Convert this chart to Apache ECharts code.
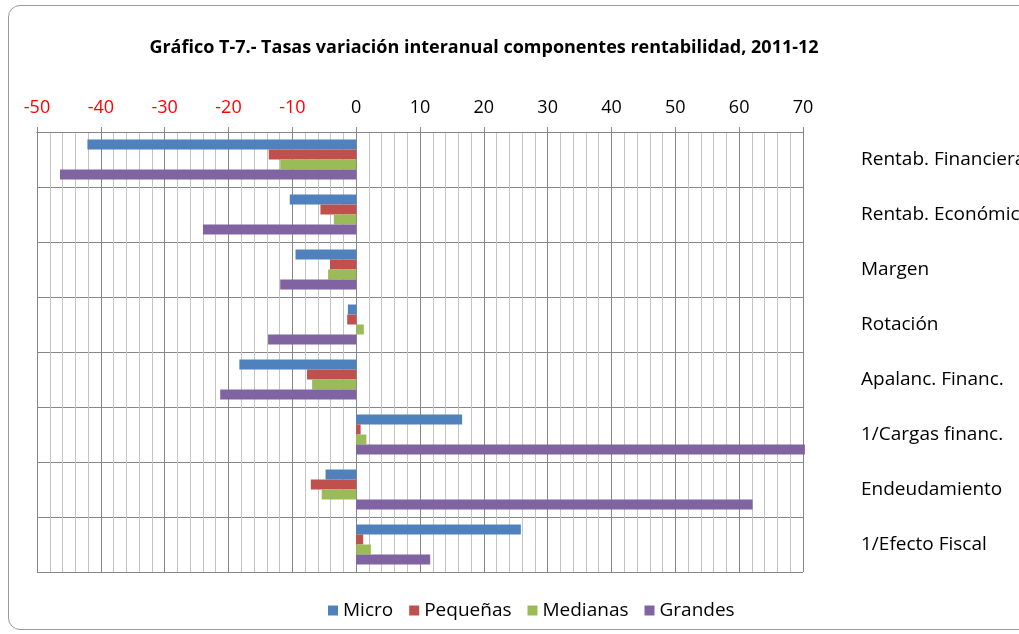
<!DOCTYPE html>
<html>
<head>
<meta charset="utf-8">
<script src="https://cdn.jsdelivr.net/npm/echarts@6/dist/echarts.min.js"></script>
<style>
  html, body { margin: 0; padding: 0; background: #fff; }
  #frame {
    position: absolute; left: 8px; top: 5px; width: 1030px; height: 625px;
    border: 1px solid #9a9a9a; border-radius: 12px; box-sizing: border-box;
  }
  #chart { position: absolute; left: 0; top: 0; width: 1019px; height: 634px; }
</style>
</head>
<body>
<div id="frame"></div>
<div id="chart"></div>
<script>
// categorias (de arriba a abajo)
const categories = [
  "Rentab. Financiera",
  "Rentab. Económica",
  "Margen",
  "Rotación",
  "Apalanc. Financ.",
  "1/Cargas financ.",
  "Endeudamiento",
  "1/Efecto Fiscal",
];

// tasas de variación 2011-12 (%)
const micro = [-42.1, -10.4, -9.5, -1.3, -18.3, 16.6, -4.8, 25.8];
const pequenas = [-13.7, -5.6, -4.1, -1.4, -7.7, 0.7, -7.1, 1.1];
const medianas = [-11.9, -3.5, -4.4, 1.2, -6.9, 1.6, -5.4, 2.3];
const grandes = [-46.4, -24.0, -11.9, -13.8, -21.3, 70.3, 62.1, 11.6];

const seriesNames = ["Micro", "Pequeñas", "Medianas", "Grandes"];
const seriesColors = ["#4F81BD", "#C0504D", "#9BBB59", "#8064A2"];

const font = "'Open Sans', sans-serif";

const chart = echarts.init(document.getElementById("chart"), null, { renderer: "canvas" });

chart.setOption({
  backgroundColor: "transparent",
  textStyle: { fontFamily: font },
  title: {
    text: "Gráfico T-7.- Tasas variación interanual componentes rentabilidad, 2011-12",
    left: 479,
    textAlign: "center",
    top: 34,
    textStyle: { fontSize: 18, fontWeight: "bold", color: "#000", fontFamily: font },
  },
  legend: {
    data: seriesNames,
    bottom: 9,
    left: 323,
    itemWidth: 10,
    itemHeight: 10,
    itemGap: 16,
    icon: "rect",
    textStyle: { fontSize: 19, color: "#000", fontFamily: font },
  },
  grid: { left: 37, right: 216, top: 132, bottom: 62, outerBoundsMode: "none", containLabel: false },
  xAxis: {
    type: "value",
    position: "top",
    min: -50,
    max: 70,
    interval: 10,
    axisLine: { show: true, lineStyle: { color: "#868686" } },
    axisTick: { show: true, length: 5, lineStyle: { color: "#868686" } },
    axisLabel: {
      fontSize: 18,
      margin: 15,
      fontFamily: font,
      color: (v) => (Number(v) < 0 ? "#ff0000" : "#000000"),
    },
    splitLine: { show: true, lineStyle: { color: "#868686", width: 1 } },
    minorTick: { show: false, splitNumber: 5 },
    minorSplitLine: { show: true, lineStyle: { color: "#c4c4c4", width: 1 } },
  },
  yAxis: {
    type: "category",
    data: categories,
    inverse: true,
    position: "right",
    axisLine: { show: false },
    axisTick: { show: false },
    axisLabel: { fontSize: 19, color: "#000", margin: 58, align: "left", fontFamily: font },
    splitLine: { show: true, lineStyle: { color: "#868686", width: 1 } },
  },
  series: [micro, pequenas, medianas, grandes].map((data, i) => ({
    name: seriesNames[i],
    type: "bar",
    data: data,
    barWidth: 10,
    barGap: "0%",
    clip: false,
    itemStyle: { color: seriesColors[i] },
  })),
});
</script>
</body>
</html>
